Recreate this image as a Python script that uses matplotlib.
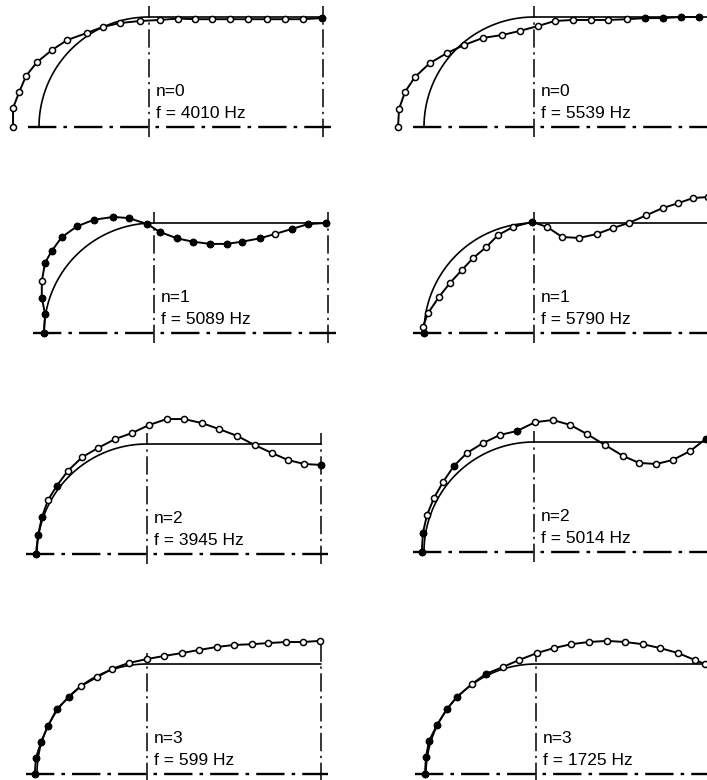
import numpy as np
import matplotlib.pyplot as plt

# mode number and natural frequency of each panel (left column, right column)
modes = [0, 0, 1, 1, 2, 2, 3, 3]
freqs = [4010, 5539, 5089, 5790, 3945, 5014, 599, 1725]

# deformed meridians, x from the pole, y from the axis (knuckle radius = 1)
x_4010 = [-0.236, -0.236, -0.18, -0.118, -0.018, 0.118, 0.255, 0.436, 0.58, 0.736, 0.918,
          1.10, 1.26, 1.42, 1.57, 1.74, 1.90, 2.07, 2.24, 2.40, 2.57]
y_4010 = [0.0, 0.173, 0.318, 0.464, 0.59, 0.70, 0.79, 0.855, 0.91, 0.945, 0.964,
          0.973, 0.986, 0.98, 0.98, 0.98, 0.98, 0.98, 0.98, 0.98, 0.99]

x_5539 = [-0.236, -0.227, -0.173, -0.082, 0.055, 0.21, 0.364, 0.536, 0.71, 0.87, 1.036,
          1.19, 1.355, 1.52, 1.673, 1.845, 2.01, 2.17, 2.336, 2.50]
y_5539 = [0.0, 0.164, 0.318, 0.455, 0.582, 0.673, 0.745, 0.81, 0.836, 0.873, 0.918,
          0.964, 0.973, 0.973, 0.973, 0.98, 0.99, 0.99, 1.0, 1.0]

x_5089 = [0.0, 0.01, -0.02, -0.02, 0.01, 0.07, 0.16, 0.30, 0.455, 0.63, 0.77, 0.94,
          1.05, 1.21, 1.355, 1.51, 1.66, 1.80, 1.96, 2.10, 2.25, 2.40, 2.56]
y_5089 = [0.0, 0.17, 0.32, 0.47, 0.64, 0.745, 0.87, 0.97, 1.03, 1.055, 1.045, 0.99,
          0.92, 0.86, 0.83, 0.81, 0.81, 0.83, 0.86, 0.90, 0.945, 0.99, 1.0]

x_5790 = [0.0, -0.01, 0.036, 0.136, 0.236, 0.345, 0.445, 0.564, 0.673, 0.81, 0.98,
          1.12, 1.255, 1.41, 1.57, 1.72, 1.86, 2.02, 2.17, 2.31, 2.445, 2.58]
y_5790 = [0.0, 0.055, 0.18, 0.327, 0.455, 0.573, 0.68, 0.78, 0.89, 0.964, 1.01,
          0.964, 0.873, 0.864, 0.90, 0.955, 1.0, 1.07, 1.136, 1.18, 1.227, 1.236]

x_3945 = [-0.01, 0.01, 0.045, 0.10, 0.18, 0.28, 0.41, 0.555, 0.71, 0.864, 1.02,
          1.18, 1.336, 1.50, 1.655, 1.82, 1.98, 2.136, 2.28, 2.43, 2.58]
y_3945 = [0.0, 0.173, 0.336, 0.49, 0.62, 0.755, 0.88, 0.964, 1.045, 1.10, 1.173,
          1.227, 1.227, 1.19, 1.136, 1.073, 0.99, 0.918, 0.855, 0.818, 0.81]

x_5014 = [-0.02, -0.01, 0.027, 0.09, 0.173, 0.27, 0.39, 0.536, 0.69, 0.845, 1.01,
          1.17, 1.33, 1.48, 1.645, 1.81, 1.955, 2.11, 2.26, 2.42, 2.56]
y_5014 = [0.0, 0.173, 0.336, 0.49, 0.636, 0.78, 0.90, 0.99, 1.064, 1.10, 1.18,
          1.20, 1.155, 1.073, 0.973, 0.873, 0.81, 0.80, 0.836, 0.918, 1.027]

x_599 = [-0.02, -0.01, 0.036, 0.10, 0.18, 0.29, 0.40, 0.545, 0.68, 0.836, 1.0,
         1.155, 1.32, 1.47, 1.636, 1.79, 1.955, 2.10, 2.264, 2.42, 2.57]
y_599 = [0.0, 0.145, 0.29, 0.436, 0.59, 0.70, 0.80, 0.88, 0.955, 1.01, 1.045,
         1.073, 1.10, 1.127, 1.155, 1.173, 1.18, 1.19, 1.20, 1.20, 1.21]

x_1725 = [-0.01, 0.0, 0.027, 0.10, 0.19, 0.28, 0.42, 0.545, 0.70, 0.845, 1.01,
          1.164, 1.32, 1.48, 1.645, 1.81, 1.97, 2.127, 2.29, 2.445, 2.536]
y_1725 = [0.0, 0.155, 0.30, 0.445, 0.59, 0.70, 0.82, 0.91, 0.973, 1.036, 1.10,
          1.145, 1.18, 1.20, 1.21, 1.20, 1.18, 1.145, 1.10, 1.036, 1.0]

shapes_x = [x_4010, x_5539, x_5089, x_5790, x_3945, x_5014, x_599, x_1725]
shapes_y = [y_4010, y_5539, y_5089, y_5790, y_3945, y_5014, y_599, y_1725]

# markers drawn solid black
filled = [[20], [16, 17, 18, 19],
          [0, 1, 2, 4, 5, 6, 7, 8, 9, 10, 11, 12, 13, 14, 15, 16, 17, 18, 20, 21, 22],
          [0, 10],
          [0, 1, 2, 4, 20], [0, 1, 5, 9, 20],
          [0, 1, 2, 3, 4, 5], [0, 1, 2, 3, 4, 5, 7]]

CYL = 1.58          # cylinder length in knuckle radii
S = 110.0           # pixels per unit
W, H = 707, 780

# pole position (pixels from top-left) and cell of each panel
poles = [(39, 127), (424, 127), (44, 333), (424, 333),
         (37, 554), (424, 552), (37, 774), (426, 774)]
row_edges = [0, 170, 380, 600, 780]
col_edges = [0, 360, 707]

fig = plt.figure(figsize=(W / 100, H / 100), dpi=100)
fig.patch.set_facecolor('white')

t = np.linspace(0, np.pi / 2, 80)
ux = np.concatenate([1 - np.cos(t), [1 + CYL]])
uy = np.concatenate([np.sin(t), [1.0]])
dashdot = (0, (12, 3, 1.5, 3))
font = dict(fontsize=12.5, family='Liberation Sans', va='center', ha='left')

for k in range(8):
    r, c = divmod(k, 2)
    x0, x1 = col_edges[c], col_edges[c + 1]
    y0, y1 = row_edges[r], row_edges[r + 1]
    px, py = poles[k]
    ax = fig.add_axes([x0 / W, 1 - y1 / H, (x1 - x0) / W, (y1 - y0) / H])
    ax.set_xlim((x0 - px) / S, (x1 - px) / S)
    ax.set_ylim((py - y1) / S, (py - y0) / S)
    ax.axis('off')

    xs = np.array(shapes_x[k])
    ys = np.array(shapes_y[k])
    end_top = max(1.1, ys[-1] + 0.02)

    # axis of revolution, junction and cylinder end
    ax.plot([-0.1, 1 + CYL + 0.07], [0, 0], color='black', lw=1.7, ls=dashdot)
    ax.plot([1, 1], [-0.09, 1.1], color='black', lw=1.1, ls=dashdot)
    ax.plot([1 + CYL, 1 + CYL], [-0.09, end_top], color='black', lw=1.1, ls=dashdot)

    # undeformed meridian
    ax.plot(ux, uy, color='black', lw=1.2)

    # mode shape
    ax.plot(xs, ys, color='black', lw=1.4, marker='o', ms=4.4,
            mfc='white', mec='black', mew=1.1)
    idx = filled[k]
    ax.plot(xs[idx], ys[idx], ls='none', marker='o', ms=4.4,
            mfc='black', mec='black')

    ax.text(1.06, 0.32, f'n={modes[k]}', **font)
    ax.text(1.06, 0.125, f'f = {freqs[k]} Hz', **font)

fig.savefig('out.png', dpi=100)
